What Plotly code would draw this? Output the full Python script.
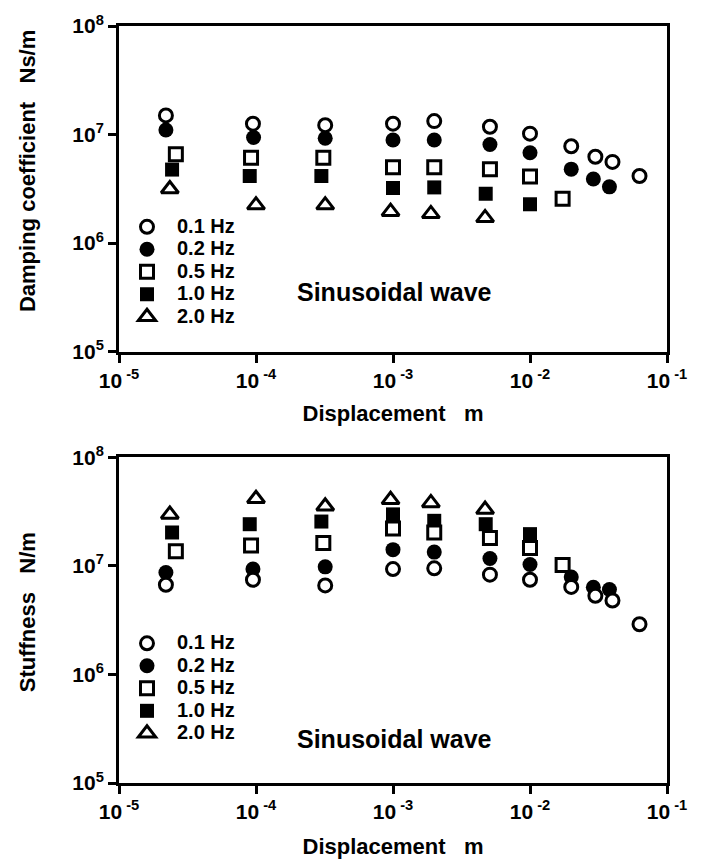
import plotly.graph_objects as go

# ---------------- data ----------------
freq_labels = ["0.1 Hz", "0.2 Hz", "0.5 Hz", "1.0 Hz", "2.0 Hz"]

# Damping coefficient (Ns/m) vs displacement (m)
damp_x_01 = [2.2e-5, 9.5e-5, 3.2e-4, 1.0e-3, 2.0e-3, 5.1e-3, 1.0e-2, 2.0e-2, 3.0e-2, 4.0e-2, 6.3e-2]
damp_y_01 = [1.50e7, 1.26e7, 1.22e7, 1.26e7, 1.33e7, 1.18e7, 1.02e7, 7.8e6, 6.25e6, 5.6e6, 4.15e6]
damp_x_02 = [2.2e-5, 9.6e-5, 3.2e-4, 1.0e-3, 2.0e-3, 5.1e-3, 1.0e-2, 2.0e-2, 2.9e-2, 3.8e-2]
damp_y_02 = [1.10e7, 9.4e6, 9.25e6, 8.9e6, 8.9e6, 8.1e6, 6.8e6, 4.8e6, 3.9e6, 3.3e6]
damp_x_05 = [2.6e-5, 9.2e-5, 3.1e-4, 1.0e-3, 2.0e-3, 5.1e-3, 1.0e-2, 1.73e-2]
damp_y_05 = [6.6e6, 6.1e6, 6.1e6, 5.0e6, 5.0e6, 4.8e6, 4.1e6, 2.57e6]
damp_x_10 = [2.44e-5, 9.0e-5, 3.0e-4, 1.0e-3, 2.0e-3, 4.75e-3, 1.0e-2]
damp_y_10 = [4.76e6, 4.15e6, 4.15e6, 3.22e6, 3.26e6, 2.85e6, 2.28e6]
damp_x_20 = [2.35e-5, 1.0e-4, 3.2e-4, 9.6e-4, 1.89e-3, 4.7e-3]
damp_y_20 = [3.15e6, 2.24e6, 2.24e6, 1.95e6, 1.86e6, 1.71e6]

# Stiffness (N/m) vs displacement (m)
stif_x_01 = [2.2e-5, 9.5e-5, 3.2e-4, 1.0e-3, 2.0e-3, 5.1e-3, 1.0e-2, 2.0e-2, 3.0e-2, 4.0e-2, 6.3e-2]
stif_y_01 = [6.7e6, 7.45e6, 6.6e6, 9.35e6, 9.5e6, 8.3e6, 7.45e6, 6.4e6, 5.3e6, 4.8e6, 2.9e6]
stif_x_02 = [2.2e-5, 9.5e-5, 3.2e-4, 1.0e-3, 2.0e-3, 5.1e-3, 1.0e-2, 2.0e-2, 2.9e-2, 3.8e-2]
stif_y_02 = [8.7e6, 9.35e6, 9.8e6, 1.41e7, 1.34e7, 1.17e7, 1.03e7, 7.9e6, 6.35e6, 6.05e6]
stif_x_05 = [2.6e-5, 9.2e-5, 3.1e-4, 1.0e-3, 2.0e-3, 5.1e-3, 1.0e-2, 1.73e-2]
stif_y_05 = [1.36e7, 1.54e7, 1.62e7, 2.21e7, 2.03e7, 1.81e7, 1.46e7, 1.02e7]
stif_x_10 = [2.44e-5, 9.0e-5, 3.0e-4, 1.0e-3, 2.0e-3, 4.75e-3, 1.0e-2]
stif_y_10 = [2.03e7, 2.42e7, 2.56e7, 2.98e7, 2.6e7, 2.42e7, 1.96e7]
stif_x_20 = [2.35e-5, 1.0e-4, 3.2e-4, 9.6e-4, 1.89e-3, 4.7e-3]
stif_y_20 = [2.98e7, 4.15e7, 3.54e7, 4.06e7, 3.8e7, 3.3e7]

x_tickvals = [1e-5, 1e-4, 1e-3, 1e-2, 1e-1]
x_ticktext = ["10<sup> -5</sup>", "10<sup> -4</sup>", "10<sup> -3</sup>", "10<sup> -2</sup>", "10<sup> -1</sup>"]
y_tickvals = [1e5, 1e6, 1e7, 1e8]
y_ticktext = ["10<sup>5</sup>", "10<sup>6</sup>", "10<sup>7</sup>", "10<sup>8</sup>"]

# ---------------- styles ----------------
FONT = "Liberation Sans"
styles = {
    "0.1 Hz": dict(symbol="circle", color="white", size=13, lw=3),
    "0.2 Hz": dict(symbol="circle", color="black", size=15, lw=0),
    "0.5 Hz": dict(symbol="square", color="white", size=13, lw=3),
    "1.0 Hz": dict(symbol="square", color="black", size=14, lw=0),
    "2.0 Hz": dict(symbol="triangle-up", color="white", size=15, lw=3),
}
draw_order = ["0.2 Hz", "1.0 Hz", "2.0 Hz", "0.5 Hz", "0.1 Hz"]

damp = {"0.1 Hz": (damp_x_01, damp_y_01), "0.2 Hz": (damp_x_02, damp_y_02),
        "0.5 Hz": (damp_x_05, damp_y_05), "1.0 Hz": (damp_x_10, damp_y_10),
        "2.0 Hz": (damp_x_20, damp_y_20)}
stif = {"0.1 Hz": (stif_x_01, stif_y_01), "0.2 Hz": (stif_x_02, stif_y_02),
        "0.5 Hz": (stif_x_05, stif_y_05), "1.0 Hz": (stif_x_10, stif_y_10),
        "2.0 Hz": (stif_x_20, stif_y_20)}

fig = go.Figure()
for data, xa, ya, leg in [(damp, "x", "y", "legend"), (stif, "x2", "y2", "legend2")]:
    for lab in draw_order:
        s = styles[lab]
        xs, ys = data[lab]
        fig.add_trace(go.Scatter(
            x=xs, y=ys, mode="markers",
            name="<span style='font-size:20px'><b>" + lab + "</b></span>",
            xaxis=xa, yaxis=ya, legend=leg,
            legendrank=freq_labels.index(lab) + 1,
            marker=dict(symbol=s["symbol"], color=s["color"], size=s["size"],
                        line=dict(color="black", width=s["lw"])),
            showlegend=True, cliponaxis=False,
        ))

W, H = 705, 868
L, R, T, B = 119, 38, 16, 85
ph = H - T - B


def py(px):
    return (H - B - px) / ph


def px_x(px):
    return (px - L) / (W - L - R)


axis_common = dict(type="log", showline=True, mirror=True, linewidth=3, linecolor="black",
                   ticks="outside", ticklen=8, tickwidth=3, tickcolor="black",
                   showgrid=False, zeroline=False, color="black",
                   tickfont=dict(family=FONT, size=21, color="black", weight="bold"))

top_dom = [py(346), 1.0]
bot_dom = [0.0, py(453)]

title_font = dict(family=FONT, size=22, color="black", weight="bold")

fig.update_layout(
    width=W, height=H, margin=dict(l=L, r=R, t=T, b=B),
    paper_bgcolor="white", plot_bgcolor="white",
    font=dict(family=FONT, color="black"),
    xaxis=dict(axis_common, range=[-5, -1], tickvals=x_tickvals, ticktext=x_ticktext,
               anchor="y", domain=[0, 1],
               title=dict(text="Displacement&nbsp;&nbsp;&nbsp;m", font=title_font, standoff=15)),
    yaxis=dict(axis_common, range=[5, 8], tickvals=y_tickvals, ticktext=y_ticktext,
               anchor="x", domain=top_dom),
    xaxis2=dict(axis_common, range=[-5, -1], tickvals=x_tickvals, ticktext=x_ticktext,
                anchor="y2", domain=[0, 1],
                title=dict(text="Displacement&nbsp;&nbsp;&nbsp;m", font=title_font, standoff=17)),
    yaxis2=dict(axis_common, range=[5, 8], tickvals=y_tickvals, ticktext=y_ticktext,
                anchor="x2", domain=bot_dom),
    legend=dict(x=px_x(117), y=py(203), xanchor="left", yanchor="top", bgcolor="rgba(0,0,0,0)",
                font=dict(family=FONT, size=15, color="black"), itemwidth=50,
                tracegroupgap=0, traceorder="normal"),
    legend2=dict(x=px_x(117), y=py(625), xanchor="left", yanchor="top", bgcolor="rgba(0,0,0,0)",
                 font=dict(family=FONT, size=15, color="black"), itemwidth=50,
                 tracegroupgap=0, traceorder="normal"),
    annotations=[
        dict(text="Sinusoidal wave", x=px_x(394), y=py(286), xref="paper", yref="paper",
             xanchor="center", yanchor="middle", showarrow=False,
             font=dict(family=FONT, size=25, color="black", weight="bold")),
        dict(text="Sinusoidal wave", x=px_x(394), y=py(738), xref="paper", yref="paper",
             xanchor="center", yanchor="middle", showarrow=False,
             font=dict(family=FONT, size=25, color="black", weight="bold")),
        dict(text="Damping coefficient&nbsp;&nbsp;&nbsp;Ns/m", x=(27 - L) / (W - L - R), y=py(163),
             xref="paper", yref="paper", xanchor="center", yanchor="middle",
             textangle=-90, showarrow=False, font=title_font),
        dict(text="Stuffness&nbsp;&nbsp;&nbsp;N/m", x=(27 - L) / (W - L - R), y=py(610),
             xref="paper", yref="paper", xanchor="center", yanchor="middle",
             textangle=-90, showarrow=False, font=title_font),
    ],
)

fig.write_html("out.html")
